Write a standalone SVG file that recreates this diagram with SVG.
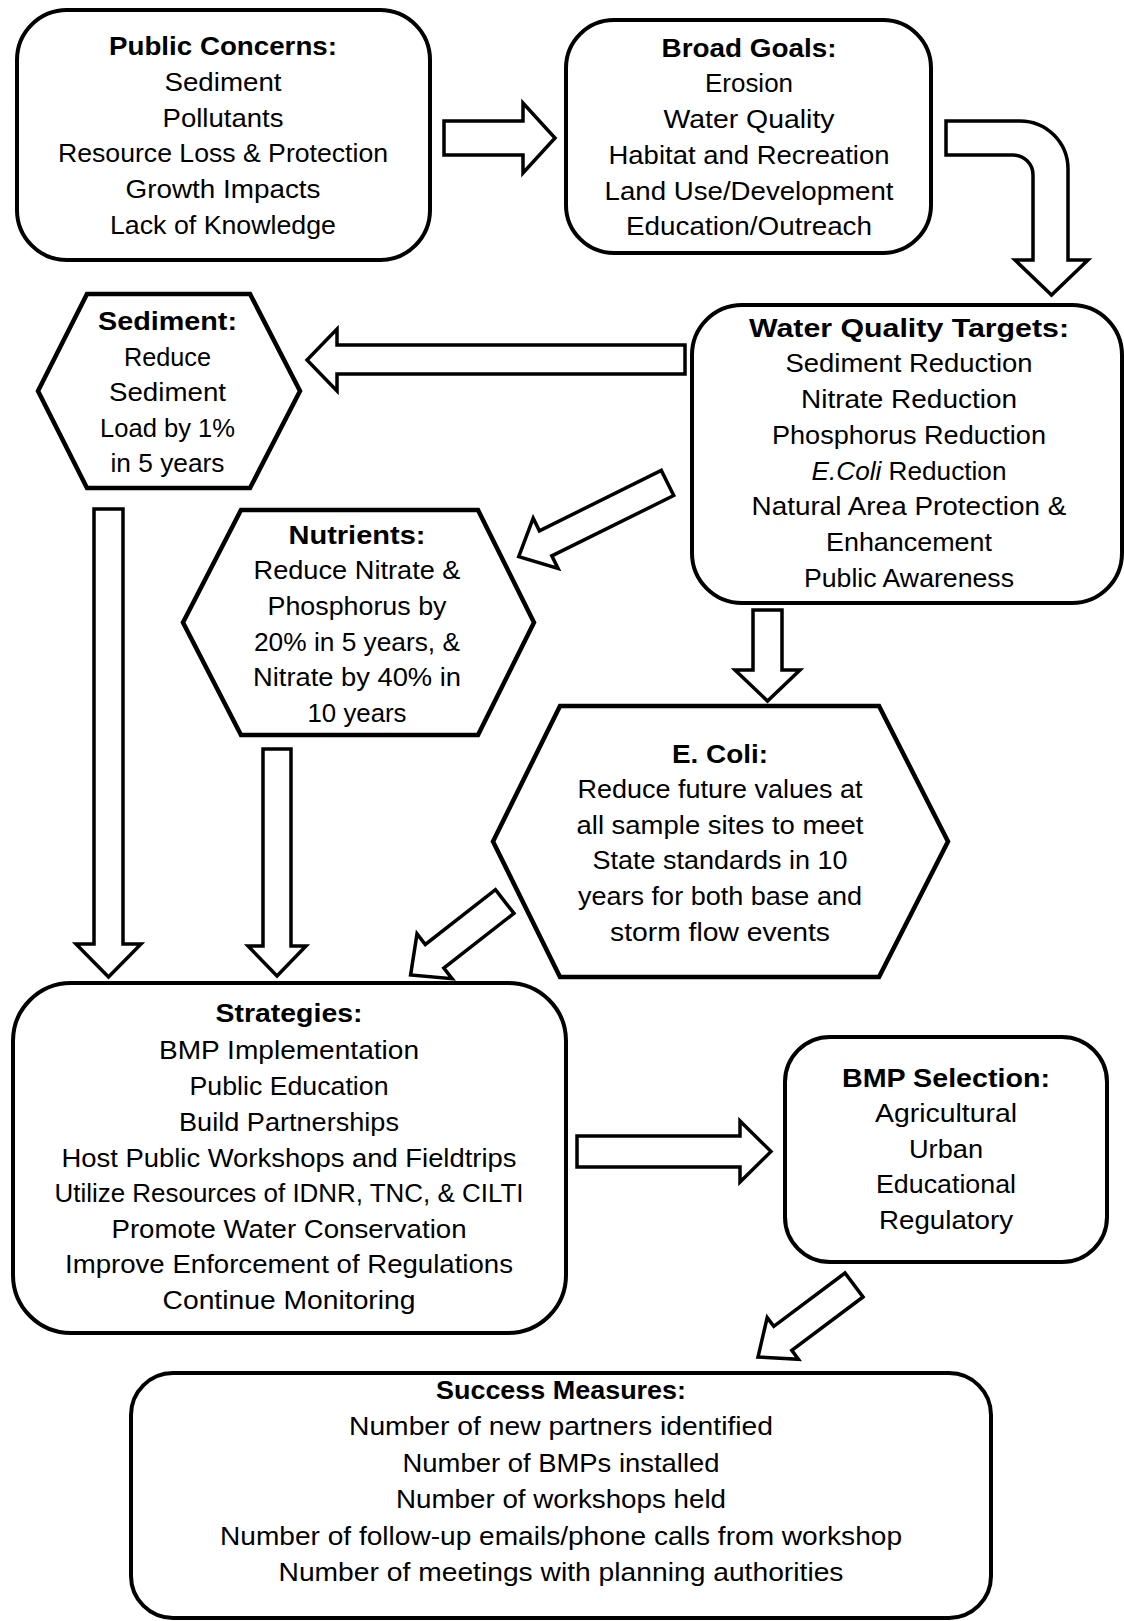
<svg xmlns="http://www.w3.org/2000/svg" width="1124" height="1621" viewBox="0 0 1124 1621">
<style>
.box{fill:#fff;stroke:#000;stroke-width:4}
.hex{fill:#fff;stroke:#000;stroke-width:4.5;stroke-linejoin:miter}
.arr{fill:#fff;stroke:#000;stroke-width:3.5;stroke-linejoin:miter}
text{font-family:"Liberation Sans",Arial,sans-serif;font-size:26px;text-anchor:middle;fill:#000}
.s{font-size:25px}
.b{font-weight:bold}
</style>
<rect width="1124" height="1621" fill="#fff"/>
<g id="connectors">
<path class="arr" d="M444,121 L523,121 L523,103 L555,138 L523,173 L523,155 L444,155 Z"/>
<path class="arr" d="M946,121 L1020,121 A48,48 0 0 1 1068,169 L1068,260 L1088,260 L1051.5,295 L1015,260 L1033,260 L1033,175 A20,20 0 0 0 1013,155 L946,155 Z"/>
<path class="arr" d="M685,345 L337,345 L337,329 L307,360 L337,391 L337,374 L685,374 Z"/>
<path class="arr" d="M0,-14 L136,-14 L136,-28 L166,0 L136,28 L136,14 L0,14 Z" transform="translate(667.5,483) rotate(153.66)"/>
<path class="arr" d="M753,610 L782,610 L782,670 L800,670 L767.5,701 L735,670 L753,670 Z"/>
<path class="arr" d="M94,509 L123,509 L123,944 L141,944 L108.5,977 L76,944 L94,944 Z"/>
<path class="arr" d="M263,749 L291,749 L291,946 L306,946 L277,976 L248,946 L263,946 Z"/>
<path class="arr" d="M0,-15 L89,-15 L89,-28.5 L119.4,0 L89,28.5 L89,15 L0,15 Z" transform="translate(504.7,901.5) rotate(142)"/>
<path class="arr" d="M577,1136 L740,1136 L740,1121 L771,1151.5 L740,1182 L740,1167 L577,1167 Z"/>
<path class="arr" d="M0,-15 L89,-15 L89,-26 L120,0 L89,26 L89,15 L0,15 Z" transform="translate(854,1285) rotate(143.13)"/>
</g>
<g id="public-concerns">
<rect class="box" x="17" y="10" width="413" height="250" rx="50"/>
<text x="223" y="55" class="b" textLength="228" lengthAdjust="spacingAndGlyphs">Public Concerns:</text>
<text x="223" y="90.7" textLength="117" lengthAdjust="spacingAndGlyphs">Sediment</text>
<text x="223" y="126.5" textLength="121" lengthAdjust="spacingAndGlyphs">Pollutants</text>
<text x="223" y="162.3" textLength="330" lengthAdjust="spacingAndGlyphs">Resource Loss &amp; Protection</text>
<text x="223" y="198" textLength="195" lengthAdjust="spacingAndGlyphs">Growth Impacts</text>
<text x="223" y="233.5" textLength="226" lengthAdjust="spacingAndGlyphs">Lack of Knowledge</text>
</g>
<g id="broad-goals">
<rect class="box" x="566" y="20" width="365" height="233" rx="48"/>
<text x="749" y="56.5" class="b" textLength="175" lengthAdjust="spacingAndGlyphs">Broad Goals:</text>
<text x="749" y="92" textLength="88" lengthAdjust="spacingAndGlyphs">Erosion</text>
<text x="749" y="128" textLength="171" lengthAdjust="spacingAndGlyphs">Water Quality</text>
<text x="749" y="164" textLength="281" lengthAdjust="spacingAndGlyphs">Habitat and Recreation</text>
<text x="749" y="200" textLength="289" lengthAdjust="spacingAndGlyphs">Land Use/Development</text>
<text x="749" y="235" textLength="246" lengthAdjust="spacingAndGlyphs">Education/Outreach</text>
</g>
<g id="water-quality-targets">
<rect class="box" x="692" y="305" width="430" height="298" rx="50"/>
<text x="909" y="336.5" class="b" textLength="320" lengthAdjust="spacingAndGlyphs">Water Quality  Targets:</text>
<text x="909" y="372" textLength="247" lengthAdjust="spacingAndGlyphs">Sediment Reduction</text>
<text x="909" y="408" textLength="216" lengthAdjust="spacingAndGlyphs">Nitrate Reduction</text>
<text x="909" y="443.5" textLength="274" lengthAdjust="spacingAndGlyphs">Phosphorus  Reduction</text>
<text x="909" y="479.5" textLength="195" lengthAdjust="spacingAndGlyphs"><tspan font-style="italic">E.Coli</tspan> Reduction</text>
<text x="909" y="515" textLength="315" lengthAdjust="spacingAndGlyphs">Natural Area Protection &amp;</text>
<text x="909" y="551" textLength="166" lengthAdjust="spacingAndGlyphs">Enhancement</text>
<text x="909" y="586.5" textLength="210" lengthAdjust="spacingAndGlyphs">Public Awareness</text>
</g>
<g id="sediment">
<polygon class="hex" points="87,294 250,294 300,391 250,488 87,488 38,391"/>
<text x="167.5" y="330" class="s b" textLength="139" lengthAdjust="spacingAndGlyphs">Sediment:</text>
<text x="167.5" y="365.5" class="s" textLength="87" lengthAdjust="spacingAndGlyphs">Reduce</text>
<text x="167.5" y="401" class="s" textLength="117" lengthAdjust="spacingAndGlyphs">Sediment</text>
<text x="167.5" y="436.5" class="s" textLength="135" lengthAdjust="spacingAndGlyphs">Load by 1%</text>
<text x="167.5" y="472" class="s" textLength="114" lengthAdjust="spacingAndGlyphs">in 5 years</text>
</g>
<g id="nutrients">
<polygon class="hex" points="241,510 478,510 534,622.5 478,735 241,735 183,622.5"/>
<text x="357" y="544" class="s b" textLength="137" lengthAdjust="spacingAndGlyphs">Nutrients:</text>
<text x="357" y="579" class="s" textLength="207" lengthAdjust="spacingAndGlyphs">Reduce Nitrate &amp;</text>
<text x="357" y="615" class="s" textLength="179" lengthAdjust="spacingAndGlyphs">Phosphorus  by</text>
<text x="357" y="651" class="s" textLength="206" lengthAdjust="spacingAndGlyphs">20% in 5 years, &amp;</text>
<text x="357" y="686" class="s" textLength="208" lengthAdjust="spacingAndGlyphs">Nitrate by 40% in</text>
<text x="357" y="721.5" class="s" textLength="99" lengthAdjust="spacingAndGlyphs">10 years</text>
</g>
<g id="e-coli">
<polygon class="hex" points="560,706 879,706 948,841.5 879,977 560,977 493,841.5"/>
<text x="720" y="762.5" class="s b" textLength="96" lengthAdjust="spacingAndGlyphs">E. Coli:</text>
<text x="720" y="798" class="s" textLength="285" lengthAdjust="spacingAndGlyphs">Reduce future values at</text>
<text x="720" y="833.5" class="s" textLength="287" lengthAdjust="spacingAndGlyphs">all sample sites to meet</text>
<text x="720" y="869" class="s" textLength="255" lengthAdjust="spacingAndGlyphs">State standards  in 10</text>
<text x="720" y="905" class="s" textLength="284" lengthAdjust="spacingAndGlyphs">years for both base and</text>
<text x="720" y="940.5" class="s" textLength="220" lengthAdjust="spacingAndGlyphs">storm flow events</text>
</g>
<g id="strategies">
<rect class="box" x="13" y="983" width="553" height="350" rx="58"/>
<text x="289" y="1022" class="s b" textLength="147" lengthAdjust="spacingAndGlyphs">Strategies:</text>
<text x="289" y="1059" class="s" textLength="260" lengthAdjust="spacingAndGlyphs">BMP Implementation</text>
<text x="289" y="1095" class="s" textLength="199" lengthAdjust="spacingAndGlyphs">Public Education</text>
<text x="289" y="1130.5" class="s" textLength="220" lengthAdjust="spacingAndGlyphs">Build Partnerships</text>
<text x="289" y="1166.5" class="s" textLength="455" lengthAdjust="spacingAndGlyphs">Host Public Workshops  and Fieldtrips</text>
<text x="289" y="1202" class="s" textLength="469" lengthAdjust="spacingAndGlyphs">Utilize Resources of IDNR, TNC, &amp; CILTI</text>
<text x="289" y="1237.5" class="s" textLength="355" lengthAdjust="spacingAndGlyphs">Promote Water Conservation</text>
<text x="289" y="1273" class="s" textLength="448" lengthAdjust="spacingAndGlyphs">Improve Enforcement of Regulations</text>
<text x="289" y="1309" class="s" textLength="253" lengthAdjust="spacingAndGlyphs">Continue Monitoring</text>
</g>
<g id="bmp-selection">
<rect class="box" x="785" y="1037" width="322" height="225" rx="45"/>
<text x="946" y="1087" class="s b" textLength="208" lengthAdjust="spacingAndGlyphs">BMP Selection:</text>
<text x="946" y="1122" class="s" textLength="142" lengthAdjust="spacingAndGlyphs">Agricultural</text>
<text x="946" y="1157.5" class="s" textLength="74" lengthAdjust="spacingAndGlyphs">Urban</text>
<text x="946" y="1193" class="s" textLength="140" lengthAdjust="spacingAndGlyphs">Educational</text>
<text x="946" y="1228.5" class="s" textLength="134" lengthAdjust="spacingAndGlyphs">Regulatory</text>
</g>
<g id="success-measures">
<rect class="box" x="131" y="1373" width="860" height="245" rx="42"/>
<text x="561" y="1398.5" class="s b" textLength="250" lengthAdjust="spacingAndGlyphs">Success Measures:</text>
<text x="561" y="1435" class="s" textLength="424" lengthAdjust="spacingAndGlyphs">Number of new partners identified</text>
<text x="561" y="1471.5" class="s" textLength="317" lengthAdjust="spacingAndGlyphs">Number of BMPs installed</text>
<text x="561" y="1508" class="s" textLength="330" lengthAdjust="spacingAndGlyphs">Number of workshops  held</text>
<text x="561" y="1544.5" class="s" textLength="682" lengthAdjust="spacingAndGlyphs">Number of follow-up emails/phone calls from workshop</text>
<text x="561" y="1580.5" class="s" textLength="565" lengthAdjust="spacingAndGlyphs">Number of meetings with planning authorities</text>
</g>
</svg>
